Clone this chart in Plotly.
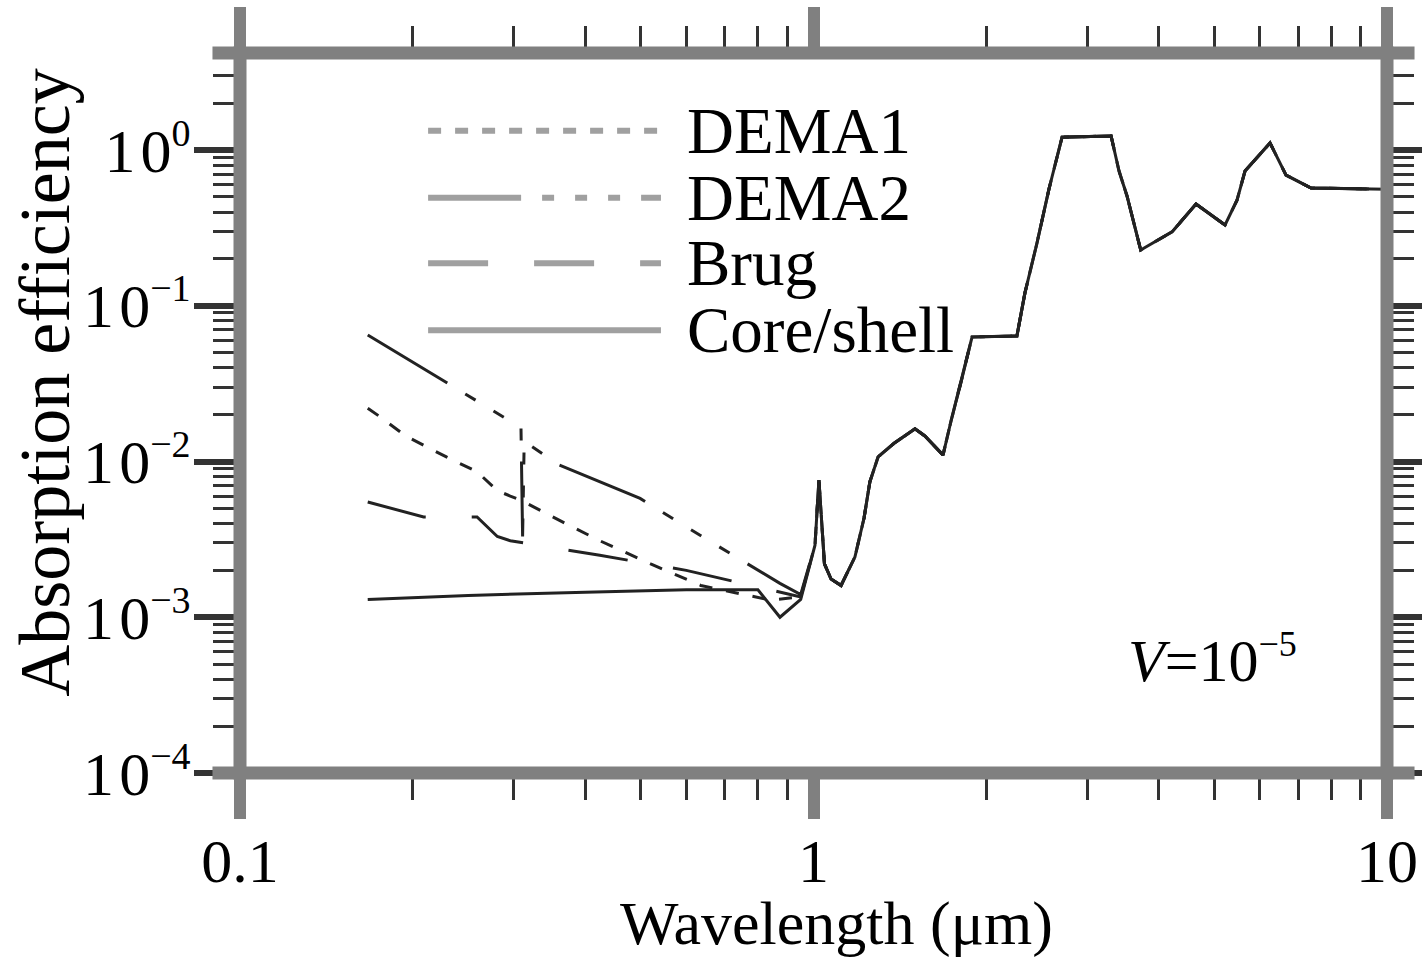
import plotly.graph_objects as go

# Shared long-wavelength part of the absorption curve (wavelength in um)
wl_tail = [1.006, 1.022, 1.045, 1.073, 1.117, 1.181, 1.225, 1.254, 1.296, 1.382,
           1.503, 1.564, 1.682, 1.737, 1.801, 1.890, 2.263, 2.337, 2.453, 2.574,
           2.713, 3.303, 3.410, 3.521, 3.72, 4.219, 4.645, 5.219, 5.476, 5.655,
           6.252, 6.667, 7.371, 9.723, 10.0]
q_tail = [2.9e-3, 7.6e-3, 2.2e-3, 1.76e-3, 1.6e-3, 2.44e-3, 4.34e-3, 7.4e-3, 1.07e-2, 1.31e-2,
          1.62e-2, 1.46e-2, 1.10e-2, 1.82e-2, 3.05e-2, 6.3e-2, 6.4e-2, 0.121, 0.253, 0.562,
          1.21, 1.23, 0.733, 0.507, 0.228, 0.298, 0.450, 0.330, 0.477, 0.733,
          1.11, 0.690, 0.570, 0.562, 0.56]

# Short-wavelength parts of each effective-medium model
wl_dema1 = [0.167, 0.175, 0.195, 0.229, 0.259, 0.281, 0.296, 0.307, 0.36, 0.424, 0.52, 0.636, 0.84, 0.95]
q_dema1 = [2.2e-2, 1.95e-2, 1.45e-2, 1.07e-2, 8.6e-3, 6.5e-3, 6.0e-3, 5.7e-3, 4.2e-3, 3.1e-3, 2.2e-3, 1.6e-3, 1.29e-3, 1.35e-3]

wl_dema2 = [0.167, 0.240, 0.309, 0.311, 0.313, 0.36, 0.4985, 0.60, 0.74, 0.874, 0.95]
q_dema2 = [6.5e-2, 2.88e-2, 1.65e-2, 3.3e-3, 1.35e-2, 9.5e-3, 5.8e-3, 3.8e-3, 2.4e-3, 1.65e-3, 1.4e-3]

wl_brug = [0.167, 0.209, 0.259, 0.281, 0.296, 0.424, 0.60, 0.84, 0.95]
q_brug = [5.5e-3, 4.4e-3, 4.4e-3, 3.3e-3, 3.1e-3, 2.5e-3, 2.0e-3, 1.5e-3, 1.35e-3]

wl_core = [0.167, 0.25, 0.40, 0.60, 0.80, 0.874, 0.95]
q_core = [1.30e-3, 1.38e-3, 1.45e-3, 1.50e-3, 1.50e-3, 1.0e-3, 1.3e-3]

series_names = ["DEMA1", "DEMA2", "Brug", "Core/shell"]
series_dash = ["13px,14px",
               "93px,21px,12px,21px,12px,21px,12px,21px",
               "60px,46px",
               "solid"]

x_ticks = [0.1, 1, 10]
x_ticktext = ["0.1", "1", "10"]
y_ticks = [1e-4, 1e-3, 1e-2, 1e-1, 1e0]
y_exponents = ["−4", "−3", "−2", "−1", "0"]


def power_label(exp, size=38, base="1\u200a0"):
    return "%s<sup><span style='font-size:%dpx'>%s</span></sup>" % (base, size, exp)


y_ticktext = [power_label(e) for e in y_exponents]

FONT = "Liberation Serif"
FRAME = "#808080"
INK = "#222222"

fig = go.Figure()
heads = [(wl_dema1, q_dema1), (wl_dema2, q_dema2), (wl_brug, q_brug), (wl_core, q_core)]
for name, dash, (wl, q) in zip(series_names, series_dash, heads):
    fig.add_trace(go.Scatter(
        x=wl + wl_tail, y=q + q_tail, mode="lines", name=name,
        line=dict(color=INK, width=3, dash=dash), showlegend=False))

axis_common = dict(
    type="log", showgrid=False, zeroline=False, automargin=False,
    showline=True, linecolor=FRAME, linewidth=1, mirror="allticks",
    ticks="outside", ticklen=45,
    tickfont=dict(family=FONT, size=62, color="black"),
)

fig.update_xaxes(
    **axis_common, range=[-1, 1], tickvals=x_ticks, ticktext=x_ticktext,
    tickwidth=12, tickcolor=FRAME, ticklabelstandoff=-11,
    minor=dict(ticks="outside", ticklen=26, tickwidth=3, tickcolor="#333333",
               dtick="D1", showgrid=False),
)
fig.update_yaxes(
    **axis_common, range=[-4, 0.623], tickvals=y_ticks, ticktext=y_ticktext,
    tickwidth=6, tickcolor="#333333", ticklabelstandoff=-9,
    minor=dict(ticks="outside", ticklen=26, tickwidth=3, tickcolor="#333333",
               dtick="D1", showgrid=False),
)

# Frame drawn centred on the plot edges, with short extensions at the corners
shapes = [dict(type="rect", xref="paper", yref="paper", x0=0, x1=1, y0=0, y1=1,
               line=dict(color=FRAME, width=13), layer="above")]
for y0 in (0, 1):
    shapes.append(dict(type="line", xref="paper", yref="paper",
                       x0=-0.024, x1=0, y0=y0, y1=y0,
                       line=dict(color=FRAME, width=13), layer="above"))
    shapes.append(dict(type="line", xref="paper", yref="paper",
                       x0=1, x1=1.024, y0=y0, y1=y0,
                       line=dict(color=FRAME, width=13), layer="above"))

# Legend drawn inside the plot: long line samples with labels
leg_y = [0.892, 0.799, 0.708, 0.615]
for name, dash, ly in zip(series_names, series_dash, leg_y):
    shapes.append(dict(type="line", xref="paper", yref="paper",
                       x0=0.164, x1=0.367, y0=ly, y1=ly,
                       line=dict(color="#a0a0a0", width=6, dash=dash)))

annotations = []
for name, ly in zip(series_names, leg_y):
    annotations.append(dict(xref="paper", yref="paper", x=0.388, y=ly, text=name,
                            showarrow=False, xanchor="left", yanchor="middle",
                            font=dict(family=FONT, size=65, color="black")))

annotations.append(dict(xref="paper", yref="paper", x=0.848, y=0.158,
                        text="<i>V</i>=" + power_label("−5", 36, "10"), showarrow=False,
                        xanchor="center", yanchor="middle",
                        font=dict(family=FONT, size=60, color="black")))
annotations.append(dict(xref="paper", yref="paper", x=0.52, y=-0.209,
                        text="Wavelength (μm)", showarrow=False,
                        xanchor="center", yanchor="middle",
                        font=dict(family=FONT, size=62, color="black")))
annotations.append(dict(xref="paper", yref="paper", x=-0.17, y=0.542,
                        text="Absorption efficiency", showarrow=False, textangle=-90,
                        xanchor="center", yanchor="middle",
                        font=dict(family=FONT, size=72, color="black")))

fig.update_layout(
    width=1422, height=958,
    margin=dict(l=240, r=35, t=53, b=185),
    paper_bgcolor="white", plot_bgcolor="white",
    shapes=shapes, annotations=annotations,
    showlegend=False,
)

fig.write_html("out.html")
